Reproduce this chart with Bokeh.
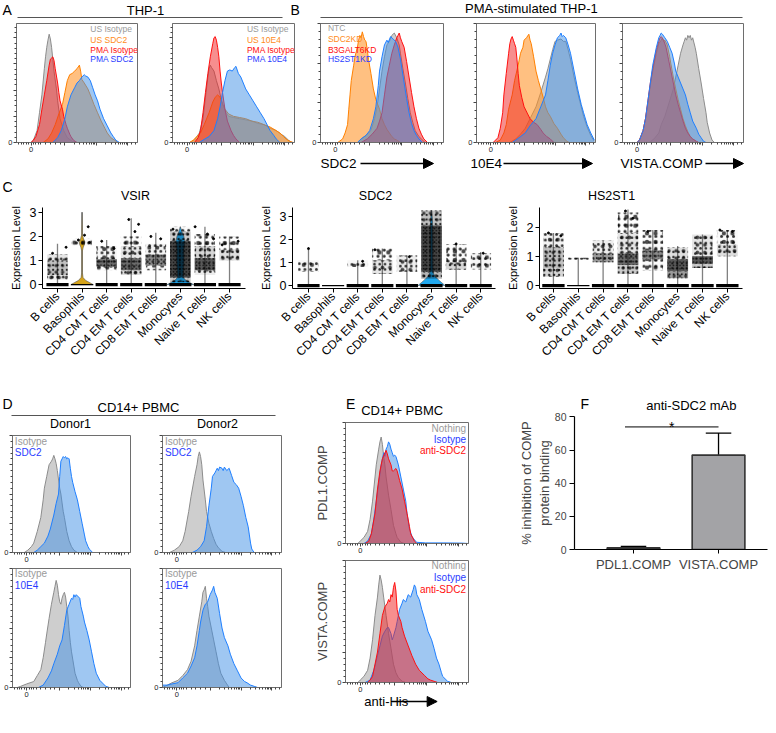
import math
from bokeh.plotting import figure
from bokeh.layouts import row, column
from bokeh.models import Range1d, FixedTicker, CustomJSTickFormatter, Arrow, NormalHead
from bokeh.core.properties import value
from bokeh.embed import file_html
from bokeh.resources import INLINE

FONT = "Liberation Sans"

# ======================= DATA =======================
# Flow histograms: (x in % of axis width, y in % of axis height)
A1_NAMES = ["US Isotype", "US SDC2", "PMA Isotype", "PMA SDC2"]
A2_NAMES = ["US Isotype", "US 10E4", "PMA Isotype", "PMA 10E4"]
A_COLORS = ["gray", "orange", "red", "blue"]
A_TITLE = "THP-1"

A1_US_ISO = [(12,0),(14,2),(17,10),(19,25),(21,40),(23,62),(24,72),(25,80),(26,86),(27,91),(28,87),(29,80),(30,70),(31,60),(33,45),(34,35),(36,20),(39,10),(42,4),(46,1),(50,0)]
A1_US_SDC2 = [(22,0),(26,3),(29,8),(32,15),(35,24),(38,32),(40,42),(42,52),(44,57),(46,58),(48,60),(50,62),(52,65),(53,60),(54,53),(56,50),(59,45),(61,40),(64,32),(67,25),(70,18),(73,12),(75,8),(78,4),(81,2),(84,0)]
A1_PMA_ISO = [(12,0),(14,2),(16,5),(19,15),(21,28),(23,40),(25,52),(27,65),(28,70),(29,71),(30,72),(31,69),(32,62),(34,50),(35,42),(36,35),(38,28),(39,22),(41,15),(42,12),(44,7),(45,5),(47,2),(50,0)]
A1_PMA_SDC2 = [(30,0),(34,4),(37,10),(40,20),(42,30),(45,40),(48,46),(50,50),(52,52),(54,55),(56,57),(57,56),(59,55),(61,52),(63,46),(65,40),(67,35),(69,28),(72,20),(75,14),(78,8),(80,5),(82,2),(85,0)]

A2_US_ISO = [(14,0),(18,2),(22,8),(25,20),(27,38),(29,55),(30,62),(31,65),(32,63),(34,60),(36,52),(38,45),(40,36),(42,30),(44,25),(46,22),(50,21),(55,20),(60,19),(65,18),(70,16),(75,15),(80,12),(85,10),(89,7),(92,5),(95,2),(98,0)]
A2_US_10E4 = [(14,0),(17,2),(20,5),(23,8),(26,15),(30,25),(33,34),(35,38),(37,40),(39,38),(41,32),(43,28),(46,24),(50,22),(55,21),(60,20),(65,18),(70,17),(75,15),(80,13),(85,10),(88,8),(91,5),(93,3),(96,1),(99,0)]
A2_PMA_ISO = [(18,0),(21,4),(23,10),(25,25),(27,42),(29,58),(31,72),(33,83),(34,88),(35,89),(36,86),(37,80),(38,72),(39,60),(40,50),(41,42),(43,28),(45,18),(48,10),(50,6),(52,3),(55,0)]
A2_PMA_10E4 = [(22,0),(25,2),(30,5),(34,10),(37,20),(39,30),(41,42),(43,52),(45,60),(47,61),(49,60),(51,63),(52,64),(54,58),(56,55),(58,50),(60,45),(63,40),(66,35),(69,30),(72,25),(75,20),(78,14),(80,10),(83,6),(85,3),(88,0)]

B_NAMES = ["NTC", "SDC2KD", "B3GALT6KD", "HS2ST1KD"]
B_COLORS = ["gray", "orange", "red", "blue"]
B_TITLE = "PMA-stimulated THP-1"
B_XLABELS = ["SDC2", "10E4", "VISTA.COMP"]

B1_NTC = [(30,0),(33,3),(37,6),(41,10),(44,20),(46,30),(48,45),(50,60),(52,72),(54,82),(56,85),(58,90),(60,92),(62,88),(64,82),(65,75),(67,62),(69,50),(71,37),(73,25),(75,17),(77,10),(80,5),(82,3),(85,0)]
B1_SDC2KD = [(14,0),(18,3),(20,8),(22,15),(23,28),(24,40),(25,52),(27,65),(28,72),(30,80),(31,86),(32,90),(33,88),(34,93),(35,89),(36,86),(37,85),(38,78),(39,70),(41,58),(43,45),(45,36),(48,28),(50,20),(52,15),(54,11),(56,8),(58,5),(60,3),(62,2),(65,0)]
B1_B3GALT6KD = [(33,0),(38,3),(42,7),(46,12),(48,18),(50,25),(52,40),(54,55),(56,65),(58,75),(60,82),(62,88),(63,90),(64,92),(65,88),(66,85),(68,80),(70,68),(72,55),(74,42),(76,30),(78,20),(80,12),(82,7),(84,3),(87,0)]
B1_HS2ST1KD = [(30,0),(33,3),(37,6),(40,10),(43,20),(45,30),(47,48),(48,60),(50,72),(52,82),(54,86),(55,84),(57,89),(59,87),(61,85),(63,80),(65,70),(68,50),(70,37),(72,25),(74,16),(76,10),(78,6),(80,3),(83,0)]

B2_NTC = [(28,0),(33,3),(37,7),(41,12),(45,20),(50,30),(54,42),(58,55),(60,62),(62,70),(64,78),(66,85),(68,86),(71,87),(73,85),(75,85),(77,78),(79,70),(82,55),(85,42),(88,30),(90,22),(93,13),(96,6),(99,1)]
B2_SDC2KD = [(16,0),(20,2),(23,8),(25,15),(27,28),(30,40),(32,52),(35,65),(37,75),(39,80),(40,86),(42,88),(44,91),(45,86),(46,83),(48,72),(50,60),(52,52),(54,45),(56,38),(58,30),(60,25),(62,22),(65,16),(68,12),(71,7),(73,4),(76,1),(78,0)]
B2_B3GALT6KD = [(14,0),(16,2),(18,4),(20,12),(22,25),(23,40),(25,58),(27,75),(28,83),(29,87),(30,89),(31,86),(32,83),(33,80),(34,70),(35,58),(36,48),(38,38),(40,30),(43,24),(45,20),(48,17),(51,15),(54,11),(56,8),(59,5),(62,3),(65,0)]
B2_HS2ST1KD = [(30,0),(33,2),(37,5),(41,8),(45,14),(50,20),(54,30),(58,40),(60,52),(62,65),(64,75),(66,82),(68,88),(70,90),(71,92),(72,89),(73,90),(75,88),(77,82),(79,75),(82,60),(85,45),(88,32),(90,25),(93,15),(96,8),(99,2)]

B3_NTC = [(22,0),(26,3),(30,8),(32,15),(35,22),(39,35),(42,45),(44,55),(46,65),(48,75),(50,82),(51,85),(52,88),(53,86),(54,90),(55,88),(56,90),(57,86),(58,88),(60,80),(61,75),(63,62),(65,50),(67,37),(69,25),(70,17),(72,8),(74,2),(76,0)]
B3_SDC2KD = [(12,0),(14,2),(17,10),(19,20),(21,33),(23,48),(25,60),(28,75),(30,83),(32,86),(33,88),(34,85),(35,86),(37,82),(39,72),(40,66),(42,55),(44,45),(46,36),(48,28),(50,20),(52,14),(54,9),(56,5),(58,3),(61,1),(63,0)]
B3_B3GALT6KD = [(12,0),(14,2),(17,10),(19,20),(21,35),(23,50),(25,62),(28,78),(30,85),(31,88),(32,89),(34,86),(36,80),(38,70),(40,60),(42,50),(44,40),(46,32),(48,25),(50,18),(52,12),(54,8),(56,5),(58,3),(61,1),(63,0)]
B3_HS2ST1KD = [(12,0),(14,2),(17,10),(19,20),(21,35),(23,50),(25,65),(28,80),(30,88),(31,90),(32,92),(33,91),(35,88),(37,85),(39,80),(41,75),(43,66),(44,60),(46,55),(48,50),(50,45),(52,40),(54,32),(56,25),(58,18),(61,12),(63,7),(65,4),(67,1),(69,0)]

# Panel C (scRNA violin plots)
C_CATS = ["B cells", "Basophils", "CD4 CM T cells", "CD4 EM T cells", "CD8 EM T cells", "Monocytes", "Naive T cells", "NK cells"]
C_GENES = ["VSIR", "SDC2", "HS2ST1"]
C_YLABEL = "Expression Level"
VSIR_MAX = [1.7, 3.0, 1.85, 2.75, 2.15, 2.4, 2.4, 2.0]
SDC2_MAX = [1.65, 0.0, 1.1, 1.6, 1.3, 3.25, 1.85, 1.45]
HS2ST1_MAX = [1.8, 0.95, 1.55, 2.6, 1.9, 1.35, 1.75, 1.9]
# point clouds of non-zero cells per category: (low, high, density)
VSIR_CLOUD = [
    [(0.2, 0.4, 0.3), (0.4, 1.0, 0.55), (1.0, 1.25, 0.35)],
    [(1.6, 1.9, 0.12)],
    [(0.6, 0.75, 0.15), (0.75, 1.05, 0.85), (1.05, 1.6, 0.2)],
    [(0.4, 0.6, 0.4), (0.6, 1.1, 0.85), (1.1, 1.6, 0.35), (1.6, 2.0, 0.12)],
    [(0.6, 0.8, 0.2), (0.8, 1.25, 0.75), (1.25, 1.7, 0.25)],
    [(0.1, 0.3, 0.5), (0.3, 1.8, 0.95), (1.8, 2.2, 0.5), (2.2, 2.4, 0.15)],
    [(0.4, 0.6, 0.3), (0.6, 1.1, 0.9), (1.1, 1.6, 0.45), (1.6, 2.1, 0.1)],
    [(1.0, 1.45, 0.4), (1.45, 2.0, 0.1)],
]
SDC2_CLOUD = [
    [(0.6, 1.1, 0.22)],
    [],
    [(0.8, 1.1, 0.2)],
    [(0.5, 1.1, 0.35), (1.1, 1.6, 0.08)],
    [(0.6, 1.3, 0.3)],
    [(0.3, 0.6, 0.6), (0.6, 2.6, 0.95), (2.6, 3.25, 0.55)],
    [(0.7, 1.0, 0.45), (1.0, 1.8, 0.12)],
    [(0.7, 1.4, 0.2)],
]
HS2ST1_CLOUD = [
    [(0.3, 0.6, 0.45), (0.6, 1.3, 0.55), (1.3, 1.8, 0.25)],
    [(0.88, 0.95, 0.2)],
    [(0.8, 1.1, 0.7), (1.1, 1.55, 0.3)],
    [(0.4, 0.7, 0.5), (0.7, 1.1, 0.85), (1.1, 1.8, 0.35), (1.8, 2.5, 0.08)],
    [(0.5, 0.9, 0.15), (0.9, 1.2, 0.75), (1.2, 1.9, 0.15)],
    [(0.25, 0.5, 0.7), (0.5, 0.9, 0.9), (0.9, 1.3, 0.4)],
    [(0.6, 0.75, 0.5), (0.75, 1.0, 0.9), (1.0, 1.75, 0.35)],
    [(1.0, 1.4, 0.4), (1.4, 1.9, 0.15)],
]
# isolated cells: (category index, jitter offset, expression)
VSIR_EXTRA = [(0, 0.35, 1.55), (0, -0.2, 1.3), (1, 0.25, 2.4), (1, 0.1, 2.05), (1, -0.15, 1.85), (1, 0.3, 1.75),
              (2, -0.2, 1.8), (2, 0.3, 1.5), (3, -0.1, 2.7), (3, 0.3, 2.5), (3, 0.15, 2.2), (4, 0.2, 1.9),
              (4, -0.2, 2.0), (5, -0.3, 2.3), (6, -0.4, 2.4), (6, 0.1, 2.1), (6, 0.35, 1.9), (7, 0.35, 1.8), (7, -0.3, 1.65)]
SDC2_EXTRA = [(0, 0.0, 1.6), (2, 0.2, 1.05), (3, -0.3, 1.55), (4, 0.1, 1.25), (6, 0.0, 1.8), (7, 0.1, 1.4)]
HS2ST1_EXTRA = [(0, -0.2, 1.8), (0, 0.3, 1.7), (3, -0.1, 2.55), (3, 0.2, 2.3), (4, -0.2, 1.85), (7, -0.3, 1.9), (7, 0.2, 1.85)]
C_ZERO_LW = [3.2, 1.2, 3.2, 3.2, 3.2, 3.2, 3.2, 3.2]
VSIR_BASO_SHAPE = [(0, 0.46), (0.08, 0.32), (0.18, 0.14), (0.3, 0.04), (0.5, 0.015), (1.4, 0.015), (1.55, 0.05), (1.68, 0.1), (1.78, 0.11), (1.9, 0.06), (2.05, 0.02), (2.5, 0.01), (3.0, 0.0)]
VSIR_MONO_SHAPE = [(0, 0.55), (0.08, 0.4), (0.18, 0.22), (0.3, 0.12), (0.6, 0.13), (1.0, 0.15), (1.4, 0.14), (1.8, 0.18), (2.0, 0.14), (2.2, 0.06), (2.4, 0.0)]
SDC2_MONO_SHAPE = [(0, 0.55), (0.12, 0.42), (0.25, 0.28), (0.4, 0.14), (0.55, 0.07), (1.0, 0.05), (2.0, 0.05), (2.8, 0.04), (3.25, 0.0)]

# Panel D (CD14+ PBMC, two donors)
D_TITLE = "CD14+ PBMC"
DONORS = ["Donor1", "Donor2"]
D_TOP_NAMES = ["Isotype", "SDC2"]
D_BOT_NAMES = ["Isotype", "10E4"]
D_COLORS = ["gray", "blue"]
D1_ISO = [(10,0),(13,2),(16,5),(18,8),(21,18),(24,30),(26,45),(27,55),(29,65),(31,75),(33,78),(34,80),(35,83),(36,80),(37,76),(38,70),(40,55),(41,50),(43,35),(44,30),(46,18),(48,10),(50,5),(52,2),(55,0)]
D1_SDC2 = [(18,0),(21,2),(24,5),(27,8),(30,14),(32,20),(35,32),(37,42),(39,50),(40,65),(41,78),(42,80),(43,82),(44,81),(45,82),(46,80),(47,81),(48,80),(49,72),(50,65),(51,60),(53,52),(55,45),(57,35),(59,25),(61,15),(62,10),(64,5),(65,3),(68,0)]
D2_ISO = [(6,0),(10,2),(14,5),(17,10),(19,18),(22,35),(24,48),(27,65),(29,75),(30,82),(31,86),(32,82),(33,75),(34,62),(36,45),(37,35),(39,25),(41,18),(43,12),(45,7),(47,4),(50,1),(53,0)]
D2_SDC2 = [(25,0),(29,2),(32,5),(35,10),(37,22),(39,40),(41,55),(42,65),(44,68),(45,70),(46,72),(47,70),(48,73),(50,72),(51,70),(52,73),(54,70),(56,72),(58,66),(60,60),(62,58),(64,55),(66,48),(68,40),(70,30),(72,22),(73,15),(74,8),(75,3),(77,0)]
D1B_ISO = [(4,0),(7,1),(12,3),(18,5),(21,10),(24,15),(26,25),(28,38),(29,45),(31,58),(33,70),(35,80),(36,85),(37,90),(38,86),(39,78),(40,72),(41,70),(42,75),(43,78),(44,80),(45,76),(46,68),(47,60),(48,48),(49,38),(50,30),(52,18),(53,12),(55,6),(56,4),(58,1),(60,0)]
D1B_10E4 = [(22,0),(26,2),(30,8),(33,14),(35,20),(38,28),(40,35),(42,40),(44,52),(46,65),(48,70),(50,75),(51,74),(52,78),(53,76),(54,78),(56,76),(57,75),(58,68),(60,60),(61,55),(63,48),(65,40),(67,30),(69,20),(71,12),(74,6),(77,3),(79,1),(82,0)]
D2B_ISO = [(0,0),(4,2),(8,4),(13,6),(17,10),(21,15),(24,22),(27,35),(29,48),(31,60),(33,72),(34,80),(35,82),(36,85),(37,75),(38,68),(39,60),(41,50),(43,40),(45,30),(47,20),(49,12),(52,6),(54,3),(56,0)]
D2B_10E4 = [(0,2),(4,2),(8,3),(13,4),(17,8),(21,12),(24,18),(27,25),(29,35),(31,48),(32,55),(34,65),(36,70),(38,72),(40,78),(42,82),(43,85),(44,80),(46,75),(48,62),(50,50),(52,42),(55,35),(57,28),(60,20),(63,14),(66,8),(69,5),(71,4),(74,2),(77,1),(80,0)]

# Panel E
E_TITLE = "CD14+ PBMC"
E_NAMES = ["Nothing", "Isotype", "anti-SDC2"]
E_COLORS = ["gray", "blue", "red"]
E_YLABELS = ["PDL1.COMP", "VISTA.COMP"]
E_XLABEL = "anti-His"
E1_NOTHING = [(10,0),(12,2),(15,5),(18,10),(20,20),(22,35),(24,55),(25,65),(27,78),(28,84),(29,88),(30,82),(31,72),(32,65),(33,55),(35,40),(37,28),(39,15),(41,8),(42,5),(45,1),(48,0)]
E1_ISOTYPE = [(15,0),(18,2),(21,8),(23,20),(25,35),(27,50),(29,65),(31,75),(32,72),(33,78),(34,80),(35,84),(36,82),(37,78),(38,75),(39,72),(40,73),(41,72),(43,65),(45,55),(47,45),(49,35),(50,25),(52,12),(54,6),(56,3),(58,1),(65,0.5),(80,0.5),(95,0.3),(100,0)]
E1_ANTISDC2 = [(16,0),(19,2),(21,8),(24,25),(26,45),(28,60),(30,70),(32,75),(33,77),(34,74),(35,70),(37,65),(38,60),(39,60),(41,62),(42,60),(44,52),(46,45),(48,35),(50,25),(52,14),(53,8),(55,4),(56,2),(58,0)]
E2_NOTHING = [(10,0),(12,2),(15,5),(18,10),(20,20),(22,35),(24,55),(26,70),(27,80),(28,88),(29,84),(30,78),(31,70),(33,55),(35,40),(37,28),(39,15),(41,8),(43,4),(46,1),(49,0)]
E2_ISOTYPE = [(16,0),(20,2),(23,10),(26,22),(28,30),(30,38),(32,42),(34,45),(35,45),(37,40),(38,35),(39,38),(41,45),(42,50),(44,60),(46,65),(47,68),(49,66),(51,72),(53,70),(55,76),(56,80),(57,78),(58,72),(60,68),(62,60),(65,50),(67,42),(70,35),(72,28),(74,20),(76,15),(78,8),(79,5),(81,3),(83,1),(86,0)]
E2_ANTISDC2 = [(18,0),(20,2),(22,5),(24,15),(26,25),(28,40),(30,55),(32,62),(34,65),(35,68),(36,66),(37,72),(38,70),(39,78),(40,82),(41,75),(42,60),(43,55),(45,50),(46,45),(48,38),(51,30),(54,22),(57,15),(60,10),(64,6),(67,3),(69,2),(72,1),(75,0)]

# Panel F (bar chart)
F_TITLE = "anti-SDC2 mAb"
F_CATS = ["PDL1.COMP", "VISTA.COMP"]
F_MEAN = [1.0, 57.0]
F_SEM = [0.8, 13.3]
F_SIG_X = [0.9, 2.0]
F_SIG_Y = 74
F_SIG_TEXT = "*"
F_YLABEL = "% inhibition of COMP\nprotein binding"
F_YTICKS = [0, 20, 40, 60, 80]

PANEL_LETTERS = ["A", "B", "C", "D", "E", "F"]

# ======================= STYLE =======================
FILL = {"gray": "#a2a2a2", "orange": "#ff9326", "red": "#f01e1e", "blue": "#3f8fe6"}
ALPHA = {"gray": 0.52, "orange": 0.58, "red": 0.5, "blue": 0.5}
LINE = {"gray": "#8c8c8c", "orange": "#ff8000", "red": "#ff1010", "blue": "#1f7fff"}
TXT = {"gray": "#9a9a9a", "orange": "#ff8c1a", "red": "#ff0d0d", "blue": "#2a3cff"}
FRAME = "#6e6e6e"
X_MAJOR = [12, 40, 66, 92]
X_MINOR = [2, 4, 6, 8, 10, 14, 16, 18, 20, 24, 28, 32, 36] + \
    [b + (e - b) * math.log10(k) for (b, e) in [(40, 66), (66, 92)] for k in range(2, 10)] + [95, 98]


def canvas(w, h):
    p = figure(width=w, height=h, x_range=Range1d(0, w), y_range=Range1d(h, 0), min_border=0,
               x_axis_location=None, y_axis_location=None, toolbar_location=None,
               output_backend="svg")
    p.outline_line_color = None
    p.xgrid.visible = False
    p.ygrid.visible = False
    return p


def put(p, x, y, s, size, align="left", baseline="middle", color="black"):
    p.text(x=[x], y=[y], text=[s], text_font=value(FONT), text_font_size=value(f"{size}px"),
           text_align=align, text_baseline=baseline, text_color=color)


def arrow(p, x0, x1, y):
    p.add_layout(Arrow(end=NormalHead(size=10, fill_color="black", line_color="black", line_width=1),
                       x_start=x0, y_start=y, x_end=x1, y_end=y, line_color="black", line_width=1.3))


def flow(curves, colors, names, lx, ly, lalign, lsize, fw, fh, bl, br, bt, bb, ymaj, ylabel=None):
    p = figure(width=bl + fw + br, height=bt + fh + bb, x_range=Range1d(0, 100), y_range=Range1d(0, 100),
               min_border_left=bl, min_border_right=br, min_border_top=bt, min_border_bottom=bb,
               toolbar_location=None, output_backend="svg")
    p.grid.visible = False
    p.outline_line_color = FRAME
    for pts, c in zip(curves, colors):
        xs = [q[0] for q in pts]
        ys = [q[1] for q in pts]
        p.varea(x=xs, y1=[0] * len(xs), y2=ys, fill_color=FILL[c], fill_alpha=ALPHA[c])
        p.line(x=xs, y=ys, line_color=LINE[c], line_width=1)
    p.text(x=[lx] * len(names), y=ly, text=names, text_color=[TXT[c] for c in colors],
           text_font=value(FONT), text_font_size=value(f"{lsize}px"), text_align=lalign,
           text_baseline="middle")
    xa = p.xaxis[0]
    ya = p.yaxis[0]
    xa.ticker = FixedTicker(ticks=X_MAJOR, minor_ticks=X_MINOR)
    xa.formatter = CustomJSTickFormatter(code="return tick == 12 ? '0' : '';")
    step = ymaj[1] - ymaj[0]
    ya.ticker = FixedTicker(ticks=ymaj, minor_ticks=[t + step * k / 5 for t in ymaj for k in range(1, 5)
                                                       if t + step * k / 5 < 100])
    ya.formatter = CustomJSTickFormatter(code="return tick == 0 ? '0' : '';")
    for ax in (xa, ya):
        ax.axis_line_color = FRAME
        ax.major_tick_line_color = "#444444"
        ax.minor_tick_line_color = "#444444"
        ax.major_tick_out = 3
        ax.major_tick_in = 0
        ax.minor_tick_out = 2
        ax.minor_tick_in = 0
        ax.major_label_text_font = FONT
        ax.major_label_text_font_size = "7.5px"
        ax.major_label_standoff = 1
        ax.major_label_text_color = "#222222"
    if ylabel:
        ya.axis_label = ylabel
        ya.axis_label_text_font = FONT
        ya.axis_label_text_font_size = "13px"
        ya.axis_label_text_font_style = "normal"
        ya.axis_label_standoff = 4
    return p


def violin(maxes, clouds, extra, shapes, xr, yr, fw, fh, bl, br, bt, bb, yticks):
    p = figure(width=bl + fw + br, height=bt + fh + bb, x_range=Range1d(*xr), y_range=Range1d(*yr),
               min_border_left=bl, min_border_right=br, min_border_top=bt, min_border_bottom=bb,
               toolbar_location=None, output_backend="svg")
    p.grid.visible = False
    p.outline_line_color = None
    cats = list(range(1, len(C_CATS) + 1))
    p.segment(x0=cats, y0=[0] * len(cats), x1=cats, y1=maxes, line_color="#808080", line_width=1.3)
    for ci, prof, col in shapes:
        ys = [q[0] for q in prof]
        hw = [q[1] for q in prof]
        xs = [cats[ci] - w for w in hw] + [cats[ci] + w for w in reversed(hw)]
        p.patch(x=xs, y=ys + list(reversed(ys)), fill_color=col, line_color="#5a5a5a", line_width=0.6)
    for ci, segs in enumerate(clouds):
        for lo, hi, d in segs:
            s = 3.0 + 3.5 * (1 - d)
            p.quad(left=cats[ci] - 0.42, right=cats[ci] + 0.42, bottom=lo, top=hi,
                   fill_color="black", fill_alpha=0.8 * d * d, line_color=None,
                   hatch_pattern="dot", hatch_color="black", hatch_scale=s,
                   hatch_weight=1.3, hatch_alpha=0.8)
            p.quad(left=cats[ci] - 0.4, right=cats[ci] + 0.4, bottom=lo, top=hi,
                   fill_alpha=0, line_color=None,
                   hatch_pattern="dot", hatch_color="black", hatch_scale=s * 1.43,
                   hatch_weight=1.2, hatch_alpha=0.7)
    p.scatter(x=[cats[ci] + dx for ci, dx, y in extra], y=[y for ci, dx, y in extra], size=2,
              color="black")
    p.segment(x0=[c - 0.45 for c in cats], y0=[0] * len(cats), x1=[c + 0.45 for c in cats],
              y1=[0] * len(cats), line_color="black", line_width=C_ZERO_LW)
    xa = p.xaxis[0]
    ya = p.yaxis[0]
    xa.ticker = FixedTicker(ticks=cats)
    xa.major_label_overrides = {c: n for c, n in zip(cats, C_CATS)}
    xa.major_label_orientation = math.pi / 4
    ya.ticker = FixedTicker(ticks=yticks)
    ya.axis_label = C_YLABEL
    ya.axis_label_text_font = FONT
    ya.axis_label_text_font_size = "11px"
    ya.axis_label_text_font_style = "normal"
    ya.axis_label_text_color = "black"
    ya.axis_label_standoff = 5
    for ax in (xa, ya):
        ax.axis_line_color = "black"
        ax.major_tick_line_color = "black"
        ax.minor_tick_line_color = None
        ax.major_tick_out = 4
        ax.major_tick_in = 0
        ax.major_label_text_font = FONT
        ax.major_label_text_color = "black"
        ax.major_label_standoff = 2
    xa.major_label_text_font_size = "12px"
    ya.major_label_text_font_size = "12.5px"
    return p


# ======================= BAND 1: A & B (y 0..156) =======================
H1 = canvas(776, 20)
put(H1, 2, 1, PANEL_LETTERS[0], 14, baseline="top")
put(H1, 145, 10, A_TITLE, 13, align="center")
put(H1, 290, 1, PANEL_LETTERS[1], 14, baseline="top")
put(H1, 531, 8, B_TITLE, 13, align="center")
H1.segment(x0=[17, 320], y0=[17, 17], x1=[282, 742], y1=[17, 17], line_color="#555555", line_width=1.2)

A_LY = [95, 86, 78, 70]
B_LY = [96, 87, 78, 70]
A_YT = [0, 22, 44, 66, 88]
B_YT = [0, 33.3, 66.6, 99.9]
pA1 = flow([A1_US_ISO, A1_US_SDC2, A1_PMA_ISO, A1_PMA_SDC2], A_COLORS, A1_NAMES, 61, A_LY, "left", 8.5,
           121, 122, 16, 23, 3, 11, A_YT)
pA2 = flow([A2_US_ISO, A2_US_10E4, A2_PMA_ISO, A2_PMA_10E4], A_COLORS, A2_NAMES, 61, A_LY, "left", 8.5,
           122, 122, 12, 14, 3, 11, A_YT)
pB1 = flow([B1_NTC, B1_SDC2KD, B1_B3GALT6KD, B1_HS2ST1KD], B_COLORS, B_NAMES, 6, B_LY, "left", 8.5,
           123, 119, 12, 21, 3, 14, B_YT)
pB2 = flow([B2_NTC, B2_SDC2KD, B2_B3GALT6KD, B2_HS2ST1KD], B_COLORS, [], 0, [], "left", 8.5,
           119, 119, 12, 15, 3, 14, B_YT)
pB3 = flow([B3_NTC, B3_SDC2KD, B3_B3GALT6KD, B3_HS2ST1KD], B_COLORS, [], 0, [], "left", 8.5,
           121, 119, 12, 33, 3, 14, B_YT)

# footer of band 1 (y 156..203): x-axis labels of B, letter C, gene titles of C
F1 = canvas(776, 47)
for lab, xt, xa0, xa1 in zip(B_XLABELS, [320, 470, 620], [360, 503, 705], [433, 592, 743]):
    put(F1, xt, 7, lab, 13.5)
    arrow(F1, xa0, xa1, 7)
put(F1, 2, 22, PANEL_LETTERS[2], 14, baseline="top")
for g, xc in zip(C_GENES, [135, 375, 611]):
    put(F1, xc, 39, g, 12.5, align="center", baseline="middle")

# ======================= BAND 2: C (y 203..389) =======================
pC1 = violin(VSIR_MAX, VSIR_CLOUD, VSIR_EXTRA, [(1, VSIR_BASO_SHAPE, "#D5A31A"), (5, VSIR_MONO_SHAPE, "#21A9F0")],
             (0.39, 8.65), (-0.158, 3.198), 203, 85, 42, 5, 0, 101, [0, 1, 2, 3])
pC2 = violin(SDC2_MAX, SDC2_CLOUD, SDC2_EXTRA, [(5, SDC2_MONO_SHAPE, "#21A9F0")],
             (0.35, 8.6), (-0.127, 3.38), 203, 83, 42, 2, 2, 101, [0, 1, 2, 3])
pC3 = violin(HS2ST1_MAX, HS2ST1_CLOUD, HS2ST1_EXTRA, [],
             (0.44, 8.61), (-0.1, 2.67), 203, 83, 42, 34, 4, 99, [0, 1, 2])

# ======================= BAND 3: D, E, F (y 389..) =======================
HD = canvas(311, 46)
put(HD, 2, 6, PANEL_LETTERS[3], 14, baseline="top")
put(HD, 138, 18, D_TITLE, 13, align="center")
HD.segment(x0=[11], y0=[26], x1=[275], y1=[26], line_color="#555555", line_width=1.2)
for dn, xc in zip(DONORS, [70, 217]):
    put(HD, xc, 34, dn, 12.5, align="center")

D_YT = [0, 25, 50, 75, 100]
pD1 = flow([D1_ISO, D1_SDC2], D_COLORS, D_TOP_NAMES, 2, [95, 85.5], "left", 10, 118, 117, 12, 20, 0, 14, D_YT)
pD2 = flow([D2_ISO, D2_SDC2], D_COLORS, D_TOP_NAMES, 2, [95, 85.5], "left", 10, 119, 117, 12, 30, 0, 14, D_YT)
pD3 = flow([D1B_ISO, D1B_10E4], D_COLORS, D_BOT_NAMES, 2, [95.8, 85.7], "left", 10, 118, 119, 12, 20, 2, 14, D_YT)
pD4 = flow([D2B_ISO, D2B_10E4], D_COLORS, D_BOT_NAMES, 2, [95.8, 85.7], "left", 10, 119, 119, 12, 30, 2, 14, D_YT)

HE = canvas(204, 33)
put(HE, 1, 6, PANEL_LETTERS[4], 14, baseline="top")
put(HE, 94, 21, E_TITLE, 13, align="center")
pE1 = flow([E1_NOTHING, E1_ISOTYPE, E1_ANTISDC2], E_COLORS, E_NAMES, 98, [95, 86, 77], "right", 10,
           123, 121, 34, 47, 0, 13, D_YT, ylabel=E_YLABELS[0])
pE2 = flow([E2_NOTHING, E2_ISOTYPE, E2_ANTISDC2], E_COLORS, E_NAMES, 98, [95.9, 86.1, 76.2], "right", 10,
           123, 122, 34, 47, 4, 13, D_YT, ylabel=E_YLABELS[1])
FE = canvas(204, 20)
put(FE, 31, 6, E_XLABEL, 13)
arrow(FE, 77, 152, 6)

HF = canvas(261, 23)
put(HF, 8, 6, PANEL_LETTERS[5], 14, baseline="top")
put(HF, 158, 16, F_TITLE, 13, align="center", baseline="middle")

pF = figure(width=261, height=162, x_range=Range1d(0.306, 2.576), y_range=Range1d(0, 80.3),
            min_border_left=59, min_border_right=9, min_border_top=4, min_border_bottom=24,
            toolbar_location=None, output_backend="svg")
pF.grid.visible = False
pF.outline_line_color = None
fx = [1, 2]
ftop = [m + e for m, e in zip(F_MEAN, F_SEM)]
pF.segment(x0=fx, y0=F_MEAN, x1=fx, y1=ftop, line_color="black", line_width=1.3)
pF.segment(x0=[x - 0.15 for x in fx], y0=ftop, x1=[x + 0.15 for x in fx], y1=ftop,
           line_color="black", line_width=1.3)
pF.vbar(x=fx, top=F_MEAN, bottom=0, width=0.62, fill_color="#a3a3a6", line_color="#333333", line_width=1.6)
pF.segment(x0=[F_SIG_X[0]], y0=[F_SIG_Y], x1=[F_SIG_X[1]], y1=[F_SIG_Y], line_color="black", line_width=1)
pF.text(x=[sum(F_SIG_X) / 2], y=[F_SIG_Y], text=[F_SIG_TEXT], text_font=value(FONT),
        text_font_size=value("14px"), text_align="center", text_baseline="middle")
xaF = pF.xaxis[0]
yaF = pF.yaxis[0]
xaF.ticker = FixedTicker(ticks=fx)
xaF.major_label_overrides = {x: n for x, n in zip(fx, F_CATS)}
yaF.ticker = FixedTicker(ticks=F_YTICKS)
yaF.axis_label = F_YLABEL
yaF.axis_label_text_font = FONT
yaF.axis_label_text_font_size = "13px"
yaF.axis_label_text_font_style = "normal"
yaF.axis_label_standoff = 0
for ax in (xaF, yaF):
    ax.axis_line_color = "black"
    ax.axis_line_width = 1.2
    ax.major_tick_line_color = "black"
    ax.minor_tick_line_color = None
    ax.major_tick_out = 5
    ax.major_tick_in = 0
    ax.major_label_text_font = FONT
    ax.major_label_standoff = 3
xaF.major_tick_out = 4
xaF.major_label_text_font_size = "13px"
yaF.major_label_text_font_size = "10.5px"

layout = column(
    H1,
    row(pA1, pA2, pB1, pB2, pB3),
    F1,
    row(pC1, pC2, pC3),
    row(column(HD, row(pD1, pD2), row(pD3, pD4)),
        column(HE, pE1, pE2, FE),
        column(HF, pF)),
)

open("out.html", "w").write(file_html(layout, INLINE, title="SDC2 figure"))
